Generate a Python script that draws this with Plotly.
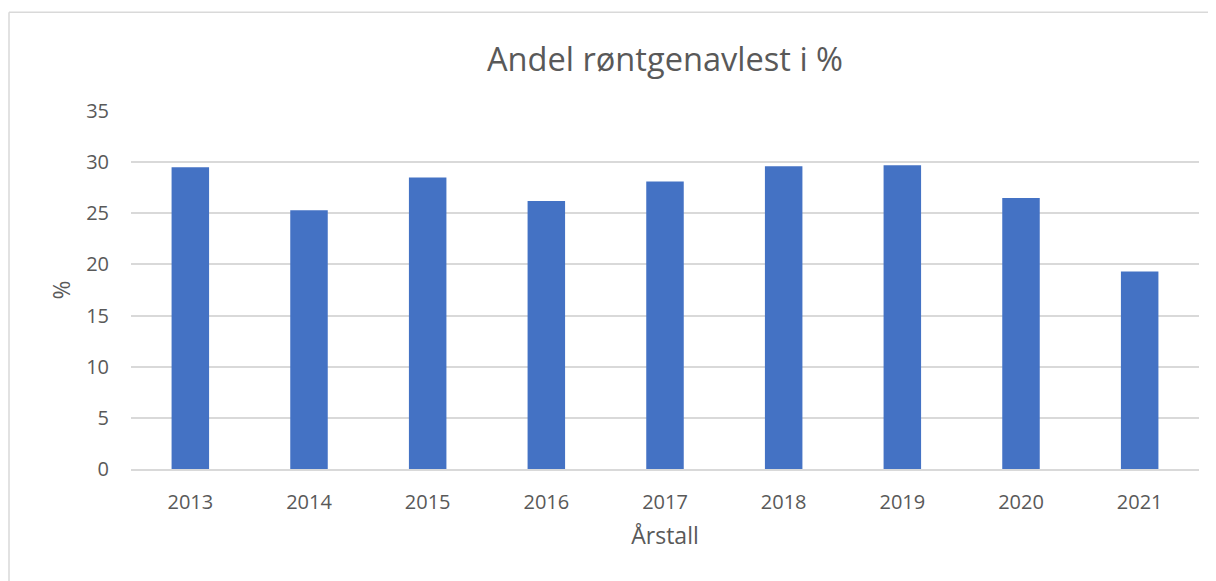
import plotly.graph_objects as go

years = ["2013", "2014", "2015", "2016", "2017", "2018", "2019", "2020", "2021"]
values = [29.5, 25.3, 28.5, 26.2, 28.1, 29.6, 29.7, 26.5, 19.3]
y_ticks = [0, 5, 10, 15, 20, 25, 30, 35]

title_text = "Andel røntgenavlest i %"
x_title = "Årstall"
y_title = "%"

FONT = "Open Sans"
TXT = "#595959"
GRID = "#D9D9D9"

fig = go.Figure(
    go.Bar(x=years, y=values, marker=dict(color="#4472C4", line=dict(width=0)))
)

# page body has an 8px margin; figure drawn from (8, 8)
OFF = 8
W, H = 1216 - OFF, 581 - OFF
ml, mr, mt = 131 - OFF, 17, 111 - OFF
pw = W - ml - mr
ph = 358.5
mb = H - mt - ph

def px_x(p):
    return (p - OFF - ml) / pw

def px_y(p):
    return (H - mb - (p - OFF)) / ph

fig.update_layout(
    width=W,
    height=H,
    margin=dict(l=ml, r=mr, t=mt, b=mb, autoexpand=False),
    paper_bgcolor="white",
    plot_bgcolor="white",
    bargap=0.684,
    showlegend=False,
    font=dict(family=FONT, color=TXT, size=20),
    title=dict(
        text=title_text,
        x=0.5,
        xref="paper",
        xanchor="center",
        y=1 - (60 - OFF) / H,
        yanchor="middle",
        font=dict(family=FONT, size=32.6, color=TXT),
    ),
    xaxis=dict(
        type="category",
        showgrid=False,
        showline=True,
        linecolor=GRID,
        linewidth=1.5,
        ticks="",
        ticklabelstandoff=14,
        tickfont=dict(size=20, color=TXT),
        title=dict(text=x_title, font=dict(size=23, color=TXT), standoff=14),
    ),
    yaxis=dict(
        range=[0, 35],
        tickvals=y_ticks,
        showgrid=True,
        gridcolor=GRID,
        gridwidth=1.5,
        zeroline=False,
        showline=False,
        ticks="",
        ticklabelstandoff=21,
        tickfont=dict(size=20, color=TXT),
        title=dict(text=y_title, font=dict(size=23, color=TXT), standoff=9),
    ),
    shapes=[
        dict(type="line", xref="paper", yref="paper",
             x0=px_x(9), x1=px_x(1240), y0=px_y(12), y1=px_y(12),
             line=dict(color=GRID, width=1.5)),
        dict(type="line", xref="paper", yref="paper",
             x0=px_x(9), x1=px_x(9), y0=px_y(12), y1=px_y(620),
             line=dict(color=GRID, width=1.5)),
    ],
)

fig.write_html("out.html")
